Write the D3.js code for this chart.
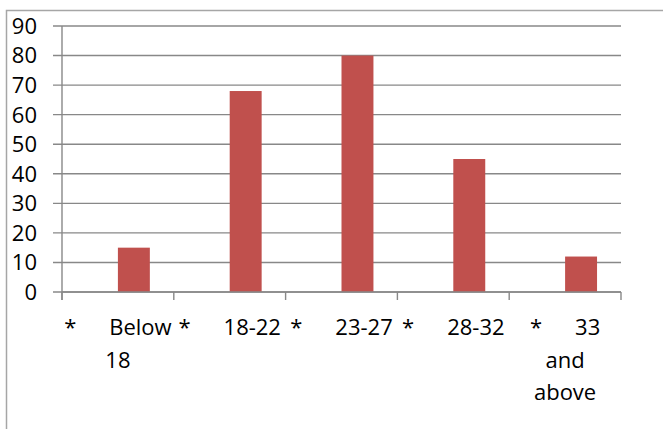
<!DOCTYPE html>
<html>
<head>
<meta charset="utf-8">
<script src="https://cdn.jsdelivr.net/npm/d3@7.9.0/dist/d3.min.js"></script>
<style>
  html, body { margin: 0; padding: 0; background: #fff; }
  svg { display: block; font-family: "Open Sans", "Noto Sans", sans-serif; }
</style>
</head>
<body>
<script>
// ─── DATA ────────────────────────────────────────────────────────────────
const categories = ['Below 18', '18-22', '23-27', '28-32', '33 and above'];
const labelLines = [['Below', '18'], ['18-22'], ['23-27'], ['28-32'], ['33', 'and', 'above']];
const series     = ['empty', 'count'];          // first series holds no values
const emptyVals  = [null, null, null, null, null];
const countVals  = [15, 68, 80, 45, 12];
const yTicks     = [0, 10, 20, 30, 40, 50, 60, 70, 80, 90];

// ─── LAYOUT ──────────────────────────────────────────────────────────────
const W = 663, H = 429;
const plot = { left: 62, right: 621, top: 26, bottom: 292 };

const svg = d3.select('body').append('svg')
  .attr('width', W).attr('height', H);

// chart-area border (cropped on right and bottom)
svg.append('rect')
  .attr('x', 6.5).attr('y', 10.5)
  .attr('width', W + 20).attr('height', H + 20)
  .attr('fill', 'none')
  .attr('stroke', '#a6a6a6')
  .attr('stroke-width', 1.5);

// ─── SCALES ──────────────────────────────────────────────────────────────
const x = d3.scaleBand()
  .domain(categories)
  .range([plot.left, plot.right])
  .padding(0);

const xs = d3.scaleBand()
  .domain(series)
  .range([0, x.bandwidth()])
  .paddingInner(0)
  .paddingOuter(0.75);

const y = d3.scaleLinear()
  .domain([0, 90])
  .range([plot.bottom, plot.top]);

const gridColor = '#888888';

// gridlines
svg.append('g')
  .selectAll('line')
  .data(yTicks)
  .join('line')
    .attr('x1', plot.left - 9).attr('x2', plot.right)
    .attr('y1', d => y(d)).attr('y2', d => y(d))
    .attr('stroke', gridColor)
    .attr('stroke-width', 1.4);

// y axis labels
svg.append('g')
  .selectAll('text')
  .data(yTicks)
  .join('text')
    .attr('x', 37)
    .attr('y', d => y(d))
    .attr('dy', '0.36em')
    .attr('text-anchor', 'end')
    .attr('font-size', 22)
    .attr('fill', '#000')
    .text(d => d);

// y axis line
svg.append('line')
  .attr('x1', plot.left).attr('x2', plot.left)
  .attr('y1', plot.top).attr('y2', plot.bottom + 8)
  .attr('stroke', gridColor).attr('stroke-width', 1.4);

// ─── BARS ────────────────────────────────────────────────────────────────
const rows = categories.map((c, i) => ({ cat: c, empty: emptyVals[i], count: countVals[i] }));

svg.append('g')
  .selectAll('g')
  .data(rows)
  .join('g')
    .attr('transform', d => `translate(${x(d.cat)},0)`)
  .selectAll('rect')
  .data(d => series.map(s => ({ s, v: d[s] })).filter(e => e.v != null))
  .join('rect')
    .attr('x', d => xs(d.s))
    .attr('width', xs.bandwidth())
    .attr('y', d => y(d.v))
    .attr('height', d => y(0) - y(d.v))
    .attr('fill', '#c0504d');

// ─── X AXIS ──────────────────────────────────────────────────────────────
svg.append('line')
  .attr('x1', plot.left).attr('x2', plot.right)
  .attr('y1', plot.bottom).attr('y2', plot.bottom)
  .attr('stroke', gridColor).attr('stroke-width', 1.4);

const boundaries = categories.map(c => x(c)).concat([x(categories[categories.length - 1]) + x.bandwidth()]);
svg.append('g')
  .selectAll('line')
  .data(boundaries)
  .join('line')
    .attr('x1', d => d).attr('x2', d => d)
    .attr('y1', plot.bottom).attr('y2', plot.bottom + 8)
    .attr('stroke', gridColor).attr('stroke-width', 1.4);

// category labels: "*" then label, wrapped and centred
const lab = svg.append('g')
  .attr('font-size', 22)
  .attr('fill', '#000');

categories.forEach((c, i) => {
  const cx = x(c) + x.bandwidth() / 2;
  labelLines[i].forEach((line, j) => {
    const t = lab.append('text')
      .attr('x', cx)
      .attr('y', 335 + j * 32.5)
      .attr('text-anchor', 'middle');
    if (j === 0) {
      t.append('tspan').text('*');
      t.append('tspan').attr('dx', 33).text(line);
    } else {
      t.text(line);
    }
  });
});
</script>
</body>
</html>
